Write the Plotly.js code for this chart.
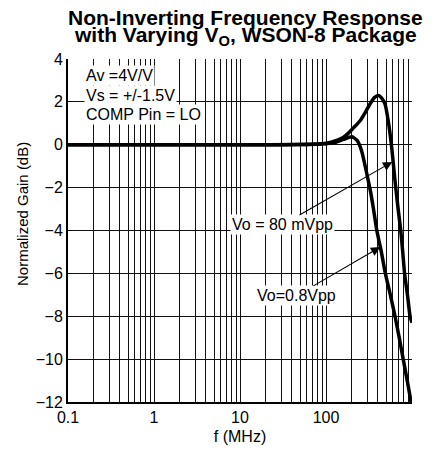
<!DOCTYPE html>
<html>
<head>
<meta charset="utf-8">
<script src="https://cdn.plot.ly/plotly-3.0.1.min.js"></script>
<style>
  html, body { margin: 0; padding: 0; background: #fff; }
  #chart { width: 432px; height: 451px; }
</style>
</head>
<body>
<div id="chart"></div>
<script>
// Frequency (MHz) and normalized gain (dB), Vo = 80 mVpp
const freq80mV = [0.1, 1, 10, 50, 100, 133, 160, 181, 210, 249, 290, 325, 365, 406, 440, 485, 530, 580, 635, 690, 740, 780, 820, 885, 950, 1000];
const gain80mV = [0, 0, 0, 0.01, 0.07, 0.2, 0.35, 0.53, 0.8, 1.12, 1.55, 1.9, 2.2, 2.3, 2.2, 1.9, 1.1, -0.1, -1.7, -3.0, -4.0, -5.0, -6.0, -7.0, -8.0, -8.3];

// Frequency (MHz) and normalized gain (dB), Vo = 0.8 Vpp
const freq08V = [0.1, 1, 10, 50, 100, 130, 160, 200, 230, 260, 300, 330, 360, 390, 440, 490, 560, 635, 710, 790, 880, 975];
const gain08V = [0, 0, 0, 0.01, 0.05, 0.12, 0.25, 0.37, 0.2, -0.3, -1.4, -2.2, -3.1, -4.0, -5.0, -6.0, -7.0, -8.0, -9.0, -10.0, -11.0, -12.0];

// Axis ticks
const decadeValues = [0.1, 1, 10, 100, 1000];
const decadeLabels = ['0.1', '1', '10', '100', '1,000'];
const gainTicks = [4, 2, 0, -2, -4, -6, -8, -10, -12];

// Callout targets on each curve
const callout80mV = { text: 'Vo = 80 mVpp', f: 590, g: -0.8, textF: 30.8, textG: -3.74 };
const callout08V = { text: 'Vo=0.8Vpp', f: 428, g: -4.77, textF: 45, textG: -7.05 };

// Minor log grid: 2..9 multiples inside each decade
const minorVals = [];
decadeValues.slice(0, -1).forEach(d => {
  for (let m = 2; m <= 9; m++) minorVals.push(d * m);
});

const M = { l: 68, r: 20, t: 59, b: 49 };
const W = 432, H = 451;
const PW = W - M.l - M.r, PH = H - M.t - M.b;
const px = x => (x - M.l) / PW;          // page px -> paper x
const py = y => (H - M.b - y) / PH;      // page px -> paper y

const FONT = 'Arial, "Liberation Sans", Helvetica, sans-serif';
const GRID = '#111';

const lineStyle = { color: '#000', width: 3.5, shape: 'spline', smoothing: 0.6 };

const traces = [
  { x: freq80mV, y: gain80mV, type: 'scatter', mode: 'lines', line: lineStyle, name: 'Vo = 80 mVpp', cliponaxis: true },
  { x: freq08V, y: gain08V, type: 'scatter', mode: 'lines', line: lineStyle, name: 'Vo = 0.8 Vpp', cliponaxis: true }
];

function callout(c) {
  return {
    x: Math.log10(c.f), y: c.g, xref: 'x', yref: 'y',
    ax: Math.log10(c.textF), ay: c.textG, axref: 'x', ayref: 'y',
    text: c.text, showarrow: true, arrowhead: 2, arrowsize: 1.7, arrowwidth: 1.1,
    arrowcolor: '#000', bgcolor: '#fff', borderpad: 1,
    font: { family: FONT, size: 16, color: '#000' }
  };
}

const boxLine = (text, y) => ({
  xref: 'paper', yref: 'paper', x: px(84), y: py(y), xanchor: 'left', yanchor: 'middle',
  text: text, showarrow: false, bgcolor: '#fff', borderpad: 1,
  font: { family: FONT, size: 16, color: '#000' }
});

const layout = {
  width: W, height: H,
  margin: M,
  paper_bgcolor: '#fff', plot_bgcolor: '#fff',
  showlegend: false,
  font: { family: FONT, color: '#000' },
  xaxis: {
    type: 'log', range: [-1, 3],
    tickmode: 'array', tickvals: decadeValues, ticktext: decadeLabels,
    ticks: '', showgrid: true, gridcolor: GRID, gridwidth: 1,
    minor: { tickmode: 'array', tickvals: minorVals, showgrid: true, gridcolor: GRID, gridwidth: 1, ticks: '' },
    showline: true, linecolor: '#000', linewidth: 2, zeroline: false,
    tickfont: { family: FONT, size: 16, color: '#000' },
    title: { text: 'f (MHz)', font: { family: FONT, size: 16, color: '#000' }, standoff: 6 }
  },
  yaxis: {
    range: [-12, 4], tickmode: 'array', tickvals: gainTicks,
    ticks: '', showgrid: true, gridcolor: GRID, gridwidth: 1,
    showline: true, linecolor: '#000', linewidth: 2, zeroline: false,
    tickfont: { family: FONT, size: 16, color: '#000' }
  },
  annotations: [
    { xref: 'paper', yref: 'paper', x: px(245), y: py(31), xanchor: 'center', yanchor: 'bottom',
      text: '<b>Non-Inverting Frequency Response</b>', showarrow: false,
      font: { family: FONT, size: 21, color: '#000' } },
    { xref: 'paper', yref: 'paper', x: px(245), y: py(51), xanchor: 'center', yanchor: 'bottom',
      text: '<b>with Varying V<sub>O</sub>, WSON-8 Package</b>', showarrow: false,
      font: { family: FONT, size: 21, color: '#000' } },
    { xref: 'paper', yref: 'paper', x: px(22), y: py(214), xanchor: 'center', yanchor: 'middle',
      text: 'Normalized Gain (dB)', textangle: -90, showarrow: false,
      font: { family: FONT, size: 15, color: '#000' } },
    boxLine('Av =4V/V', 75),
    boxLine('Vs = +/-1.5V', 95),
    boxLine('COMP Pin = LO', 115),
    callout(callout80mV),
    callout(callout08V)
  ]
};

Plotly.newPlot('chart', traces, layout, { displayModeBar: false, staticPlot: true });
</script>
</body>
</html>
